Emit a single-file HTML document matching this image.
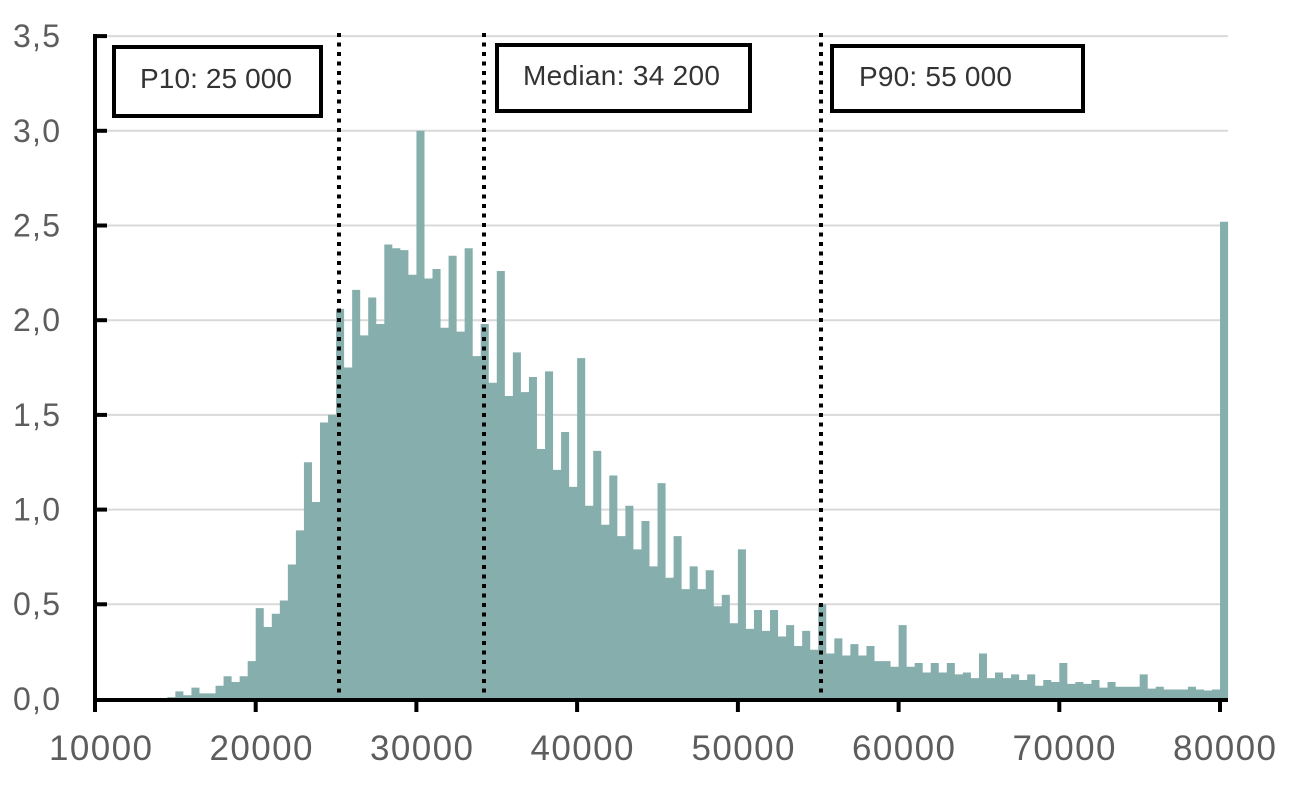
<!DOCTYPE html>
<html>
<head>
<meta charset="utf-8">
<style>
  html, body { margin: 0; padding: 0; background: #ffffff; }
  body { width: 1294px; height: 793px; overflow: hidden; }
  svg { display: block; }
  .ax { font-family: "Liberation Sans", sans-serif; fill: #5d5d5d; }
  .bx { font-family: "Liberation Sans", sans-serif; fill: #333333; font-size: 28px; }
</style>
</head>
<body>
<svg width="1294" height="793" viewBox="0 0 1294 793" xmlns="http://www.w3.org/2000/svg">
  <rect x="0" y="0" width="1294" height="793" fill="#ffffff"/>

  <!-- gridlines -->
  <g stroke="#d9d9d9" stroke-width="2">
    <line x1="97" y1="604.3" x2="1228" y2="604.3"/>
    <line x1="97" y1="509.6" x2="1228" y2="509.6"/>
    <line x1="97" y1="414.9" x2="1228" y2="414.9"/>
    <line x1="97" y1="320.2" x2="1228" y2="320.2"/>
    <line x1="97" y1="225.5" x2="1228" y2="225.5"/>
    <line x1="97" y1="130.8" x2="1228" y2="130.8"/>
    <line x1="97" y1="36.1" x2="1228" y2="36.1"/>
  </g>

  <!-- histogram -->
  <g transform="translate(95,699) scale(8.036,-189.4)">
    <path fill="#86aead" d="M9,0 V0.01 H10 V0.04 H11 V0.02 H12 V0.06 H13 V0.03 H14 V0.03 H15 V0.07 H16 V0.12 H17 V0.09 H18 V0.12 H19 V0.2 H20 V0.48 H21 V0.38 H22 V0.45 H23 V0.52 H24 V0.71 H25 V0.89 H26 V1.25 H27 V1.04 H28 V1.46 H29 V1.5 H30 V2.06 H31 V1.75 H32 V2.16 H33 V1.92 H34 V2.12 H35 V1.98 H36 V2.4 H37 V2.38 H38 V2.37 H39 V2.24 H40 V3 H41 V2.22 H42 V2.27 H43 V1.96 H44 V2.34 H45 V1.94 H46 V2.38 H47 V1.81 H48 V1.98 H49 V1.67 H50 V2.26 H51 V1.6 H52 V1.83 H53 V1.62 H54 V1.7 H55 V1.32 H56 V1.73 H57 V1.21 H58 V1.41 H59 V1.12 H60 V1.8 H61 V1.02 H62 V1.31 H63 V0.92 H64 V1.18 H65 V0.86 H66 V1.02 H67 V0.79 H68 V0.94 H69 V0.7 H70 V1.14 H71 V0.64 H72 V0.86 H73 V0.58 H74 V0.7 H75 V0.58 H76 V0.68 H77 V0.49 H78 V0.55 H79 V0.4 H80 V0.79 H81 V0.37 H82 V0.47 H83 V0.36 H84 V0.47 H85 V0.33 H86 V0.39 H87 V0.28 H88 V0.36 H89 V0.26 H90 V0.5 H91 V0.24 H92 V0.32 H93 V0.23 H94 V0.29 H95 V0.23 H96 V0.28 H97 V0.2 H99 V0.17 H100 V0.39 H101 V0.17 H102 V0.19 H103 V0.14 H104 V0.19 H105 V0.14 H106 V0.19 H107 V0.13 H108 V0.14 H109 V0.11 H110 V0.24 H111 V0.11 H112 V0.14 H113 V0.11 H114 V0.13 H115 V0.1 H116 V0.13 H117 V0.07 H118 V0.1 H119 V0.09 H120 V0.19 H121 V0.08 H122 V0.09 H123 V0.08 H124 V0.1 H125 V0.06 H126 V0.09 H127 V0.065 H130 V0.13 H131 V0.055 H132 V0.065 H133 V0.05 H136 V0.065 H137 V0.05 H138 V0.045 H139 V0.05 H140 V2.52 H141 V0 Z"/>
  </g>

  <!-- dotted percentile lines -->
  <g stroke="#000000" stroke-width="4" stroke-dasharray="4 5.5" fill="none">
    <line x1="339" y1="33" x2="339" y2="697"/>
    <line x1="484" y1="33" x2="484" y2="697"/>
    <line x1="821" y1="33" x2="821" y2="697"/>
  </g>

  <!-- axes -->
  <g stroke="#000000" stroke-width="4" fill="none">
    <line x1="95" y1="34" x2="95" y2="702"/>
    <line x1="93" y1="700" x2="1228" y2="700"/>
  </g>
  <!-- y ticks (inside) -->
  <g stroke="#000000" stroke-width="4">
    <line x1="93" y1="36.1" x2="107" y2="36.1"/>
    <line x1="93" y1="130.8" x2="107" y2="130.8"/>
    <line x1="93" y1="225.5" x2="107" y2="225.5"/>
    <line x1="93" y1="320.2" x2="107" y2="320.2"/>
    <line x1="93" y1="414.9" x2="107" y2="414.9"/>
    <line x1="93" y1="509.6" x2="107" y2="509.6"/>
    <line x1="93" y1="604.3" x2="107" y2="604.3"/>
  </g>
  <!-- x ticks (outside) -->
  <g stroke="#000000" stroke-width="4">
    <line x1="95" y1="700" x2="95" y2="712"/>
    <line x1="255.7" y1="700" x2="255.7" y2="712"/>
    <line x1="416.4" y1="700" x2="416.4" y2="712"/>
    <line x1="577.1" y1="700" x2="577.1" y2="712"/>
    <line x1="737.9" y1="700" x2="737.9" y2="712"/>
    <line x1="898.6" y1="700" x2="898.6" y2="712"/>
    <line x1="1059.3" y1="700" x2="1059.3" y2="712"/>
    <line x1="1220" y1="700" x2="1220" y2="712"/>
  </g>

  <!-- y labels -->
  <g class="ax" font-size="32" text-anchor="end">
    <text x="60" y="47" textLength="47" lengthAdjust="spacing">3,5</text>
    <text x="60" y="142" textLength="47" lengthAdjust="spacing">3,0</text>
    <text x="60" y="236.5" textLength="47" lengthAdjust="spacing">2,5</text>
    <text x="60" y="331" textLength="47" lengthAdjust="spacing">2,0</text>
    <text x="60" y="426" textLength="47" lengthAdjust="spacing">1,5</text>
    <text x="60" y="520.5" textLength="47" lengthAdjust="spacing">1,0</text>
    <text x="60" y="615" textLength="47" lengthAdjust="spacing">0,5</text>
    <text x="60" y="710" textLength="47" lengthAdjust="spacing">0,0</text>
  </g>

  <!-- x labels -->
  <g class="ax" font-size="35" text-anchor="middle">
    <text x="100.5" y="760" textLength="103" lengthAdjust="spacing">10000</text>
    <text x="261" y="760" textLength="103" lengthAdjust="spacing">20000</text>
    <text x="421.5" y="760" textLength="103" lengthAdjust="spacing">30000</text>
    <text x="582" y="760" textLength="103" lengthAdjust="spacing">40000</text>
    <text x="743" y="760" textLength="103" lengthAdjust="spacing">50000</text>
    <text x="903.5" y="760" textLength="103" lengthAdjust="spacing">60000</text>
    <text x="1064" y="760" textLength="103" lengthAdjust="spacing">70000</text>
    <text x="1224.5" y="760" textLength="103" lengthAdjust="spacing">80000</text>
  </g>

  <!-- annotation boxes -->
  <g fill="#ffffff" stroke="#000000" stroke-width="4">
    <rect x="114" y="47" width="207" height="69"/>
    <rect x="497" y="45" width="253" height="66"/>
    <rect x="832" y="46" width="251" height="65"/>
  </g>
  <g class="bx">
    <text x="140" y="88" textLength="152" lengthAdjust="spacing">P10: 25 000</text>
    <text x="523" y="85" textLength="197" lengthAdjust="spacing">Median: 34 200</text>
    <text x="859" y="86" textLength="153" lengthAdjust="spacing">P90: 55 000</text>
  </g>
</svg>
</body>
</html>
